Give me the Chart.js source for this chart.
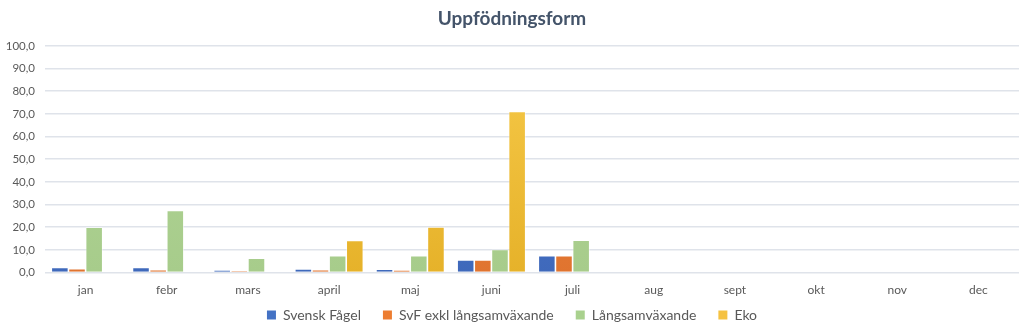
<!DOCTYPE html>
<html>
<head>
<meta charset="utf-8">
<script src="https://cdn.jsdelivr.net/npm/chart.js@4/dist/chart.umd.min.js"></script>
<style>
  html, body { margin: 0; padding: 0; background: #fff; }
  #wrap { width: 1024px; height: 336px; }
</style>
</head>
<body>
<div id="wrap"><canvas id="uppfChart" width="1024" height="336"></canvas></div>
<script>
// Månader och andel per uppfödningsform (%)
const manader = ['jan', 'febr', 'mars', 'april', 'maj', 'juni', 'juli', 'aug', 'sept', 'okt', 'nov', 'dec'];
const svenskFagel = [2.3, 2.3, 1.2, 1.6, 1.5, 5.6, 7.4, null, null, null, null, null];
const svfExkl = [1.7, 1.3, 0.8, 1.3, 1.2, 5.6, 7.4, null, null, null, null, null];
const langsam = [20.0, 27.4, 6.4, 7.4, 7.4, 10.2, 14.3, null, null, null, null, null];
const eko = [null, null, null, 14.2, 20.1, 71.1, null, null, null, null, null, null];
const yTicks = [0, 10, 20, 30, 40, 50, 60, 70, 80, 90, 100];

// lätt gradient i staplarna, som i Excel
function gradient(top, bottom) {
    return function(context) {
        const area = context.chart.chartArea;
        if (!area) return top;
        const g = context.chart.ctx.createLinearGradient(0, area.top, 0, area.bottom);
        g.addColorStop(0, top);
        g.addColorStop(1, bottom);
        return g;
    };
}

const dataset = (label, data, top, bottom) => ({
    label: label,
    data: data,
    backgroundColor: gradient(top, bottom),
    borderColor: 'rgba(255,255,255,0.7)',
    borderWidth: 0.8,
    borderSkipped: 'bottom',
    categoryPercentage: 0.845,
    barPercentage: 1.0
});

// legenden: bred luft mellan posterna men tät höjd
const tightLegend = {
    id: 'tightLegend',
    beforeInit(chart) {
        const legend = chart.legend;
        const fit = legend.fit;
        legend.fit = function() {
            fit.call(this);
            this.height = 37;
        };
    },
    afterLayout(chart) {
        chart.legend.top -= 13;
        chart.legend.bottom -= 13;
    }
};

const ctx = document.getElementById('uppfChart').getContext('2d');
const legendColors = ['#4472c4', '#ed7d31', '#a9d18e', '#f5c242'];

const chart = new Chart(ctx, {
    type: 'bar',
    data: {
        labels: manader,
        datasets: [
            dataset('Svensk Fågel', svenskFagel, '#4a78d0', '#3f69bb'),
            dataset('SvF exkl långsamväxande', svfExkl, '#ee8445', '#e0742f'),
            dataset('Långsamväxande', langsam, '#b2d597', '#a7cc8b'),
            dataset('Eko', eko, '#f7ca4a', '#e6b22a')
        ]
    },
    plugins: [tightLegend],
    options: {
        responsive: false,
        animation: false,
        events: [],
        layout: { padding: { left: 5, right: 5, top: 0, bottom: 0 } },
        plugins: {
            title: {
                display: true,
                text: 'Uppfödningsform',
                color: '#44546a',
                font: { family: 'Lato', size: 19, weight: 'bold' },
                padding: { top: 7, bottom: 16 }
            },
            legend: {
                position: 'bottom',
                labels: {
                    color: '#595959',
                    font: { family: 'Lato', size: 14 },
                    boxWidth: 9,
                    boxHeight: 9,
                    padding: 22,
                    generateLabels: function(chart) {
                        return chart.data.datasets.map((ds, i) => ({
                            text: ds.label,
                            fillStyle: legendColors[i],
                            strokeStyle: legendColors[i],
                            lineWidth: 0,
                            fontColor: '#595959',
                            datasetIndex: i
                        }));
                    }
                }
            },
            tooltip: { enabled: false }
        },
        scales: {
            x: {
                grid: { display: false },
                border: { display: false },
                ticks: {
                    color: '#595959',
                    font: { family: 'Lato', size: 12 },
                    padding: 2
                }
            },
            y: {
                min: 0,
                max: 100,
                afterBuildTicks: function(scale) {
                    scale.ticks = yTicks.map(v => ({ value: v }));
                },
                afterFit: function(scale) { scale.width = 40; },
                grid: { color: '#dfe3ea', lineWidth: 1.5, drawTicks: false },
                border: { display: false },
                ticks: {
                    color: '#595959',
                    font: { family: 'Lato', size: 11.5 },
                    padding: 10,
                    callback: v => v.toFixed(1).replace('.', ',')
                }
            }
        }
    }
});
</script>
</body>
</html>
